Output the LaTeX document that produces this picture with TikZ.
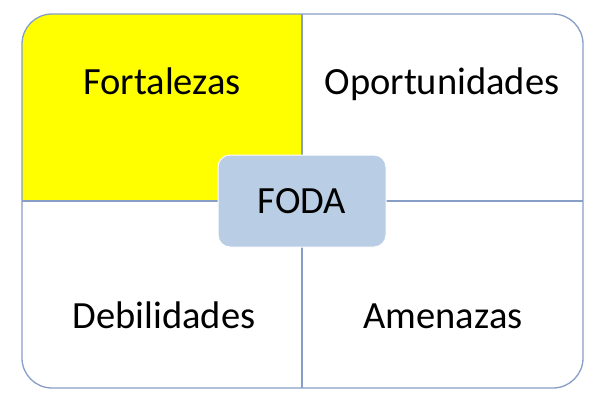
\documentclass[tikz,border=0pt]{standalone}
\usepackage{fontspec}
\setmainfont{Carlito}
\definecolor{gridline}{RGB}{135,158,198}
\definecolor{fodafill}{RGB}{185,205,229}
\definecolor{quadyellow}{RGB}{255,255,0}
\tikzset{
  quadlabel/.style={anchor=base, inner sep=0pt, font=\fontsize{38.5bp}{46bp}\selectfont, text=black},
  divider/.style={draw=gridline, line width=1.3bp},
  centerbox/.style={draw=white, line width=1bp, fill=fodafill, rounded corners=12bp}
}
\begin{document}
\begin{tikzpicture}[x=1bp,y=-1bp]
\useasboundingbox (0,0) rectangle (600,403);
\begin{scope}
  \clip[rounded corners=30bp] (22,14) rectangle (583,388);
  \fill[quadyellow] (22,14) rectangle (302,201);
\end{scope}
\draw[divider] (302,14) -- (302,388);
\draw[divider] (22,201) -- (583,201);
\draw[divider, rounded corners=30bp] (22,14) rectangle (583,388);
\node[quadlabel] (fort) at (162,94) {Fortalezas};
\node[quadlabel] (opor) at (442,94) {Oportunidades};
\node[quadlabel] (debi) at (164,328) {Debilidades};
\node[quadlabel] (amen) at (443,328) {Amenazas};
\draw[centerbox] (218,155) rectangle (386,247);
\node[quadlabel] (foda) at (302,213) {FODA};
\end{tikzpicture}
\end{document}
